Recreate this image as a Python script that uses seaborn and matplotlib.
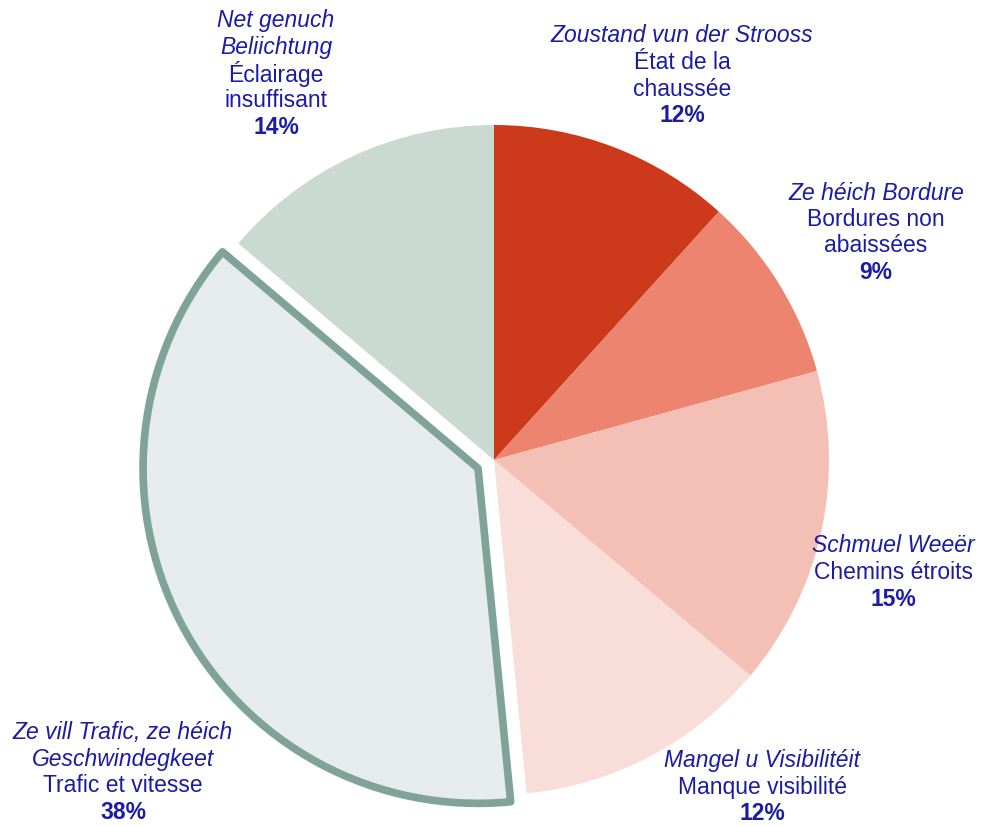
import matplotlib
matplotlib.use("Agg")
import matplotlib.pyplot as plt
import seaborn as sns

# slices clockwise from 12 o'clock (shares)
lux_labels = ["Zoustand vun der Strooss", "Ze héich Bordure", "Schmuel Weeër",
              "Mangel u Visibilitéit", "Ze vill Trafic, ze héich\nGeschwindegkeet",
              "Net genuch\nBeliichtung"]
fr_labels = ["État de la\nchaussée", "Bordures non\nabaissées", "Chemins étroits",
             "Manque visibilité", "Trafic et vitesse", "Éclairage\ninsuffisant"]
shares = [11.7, 9.0, 15.4, 12.3, 37.7, 13.8]
colors = ["#cc391b", "#ec8470", "#f4c0b6", "#f9ddd8", "#e6eceb", "#cbd9d3"]

highlight = 4
text_color = "#1b1ca4"
W, H = 981, 826

# label block positions (pixel x centre, pixel y of first line)
label_pos = [(682, 36), (876, 193), (893, 546), (762, 761), (123, 733), (276, 21)]
line_gap = 26.5

sns.set_theme(style="white")
plt.rcParams["font.family"] = ["Liberation Sans", "DejaVu Sans"]

fig = plt.figure(figsize=(W / 100, H / 100), dpi=100)
ax = fig.add_axes([0, 0, 1, 1])

explode = [18 if i == highlight else 0 for i in range(len(shares))]
wedges, _ = ax.pie(shares, colors=colors, startangle=90, counterclock=False,
                   radius=335, center=(494, H - 460), explode=explode,
                   wedgeprops=dict(linewidth=0))
wedges[highlight].set_edgecolor("#80a398")
wedges[highlight].set_linewidth(5.5)
wedges[highlight].set_joinstyle("round")

ax.set_xlim(0, W)
ax.set_ylim(0, H)
ax.set_aspect("equal")
ax.axis("off")

for lux, fr, pct, (x, y) in zip(lux_labels, fr_labels, shares, label_pos):
    lines = [(t, dict(style="italic")) for t in lux.split("\n")]
    lines += [(t, {}) for t in fr.split("\n")]
    lines.append((f"{round(pct)}%", dict(weight="bold")))
    for i, (t, kw) in enumerate(lines):
        ax.text(x, H - (y + i * line_gap), t, ha="center", va="center",
                fontsize=16.5, color=text_color, **kw)

fig.savefig("out.png", dpi=100)
